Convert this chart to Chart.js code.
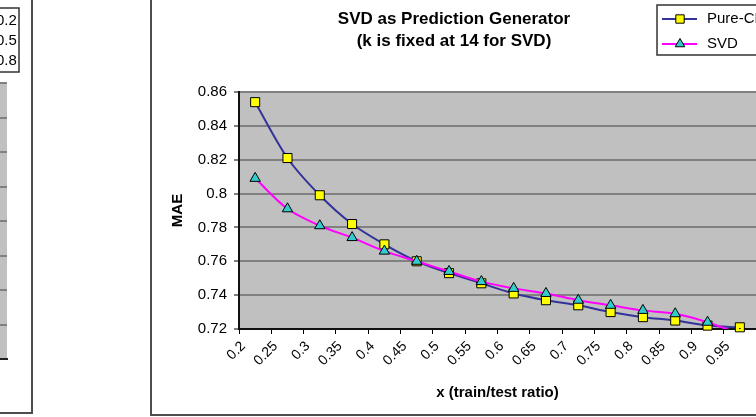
<!DOCTYPE html>
<html>
<head>
<meta charset="utf-8">
<script src="https://cdn.jsdelivr.net/npm/chart.js@4/dist/chart.umd.min.js"></script>
<style>
  html, body { margin: 0; padding: 0; background: #fff; overflow: hidden; width: 756px; height: 417px; }
  .frame { position: absolute; box-sizing: border-box; border: 2px solid #4d4d4d; background: #fff; }
  #prevFrame { left: -300px; top: -10px; width: 333px; height: 424px; }
  #mainFrame { left: 150px; top: -20px; width: 632px; height: 436px; }
  canvas { display: block; }
</style>
</head>
<body>
<div class="frame" id="prevFrame"><canvas id="prevChart" width="329" height="420"></canvas></div>
<div class="frame" id="mainFrame"><canvas id="myChart" width="628" height="432"></canvas></div>
<script>
// train/test ratio categories
var ratios = ['0.2', '0.25', '0.3', '0.35', '0.4', '0.45', '0.5', '0.55',
              '0.6', '0.65', '0.7', '0.75', '0.8', '0.85', '0.9', '0.95'];
// MAE
var pureCF = [0.854, 0.821, 0.799, 0.782, 0.770, 0.760, 0.753, 0.747,
              0.741, 0.737, 0.734, 0.730, 0.727, 0.725, 0.722, 0.721];
var svd    = [0.809, 0.791, 0.781, 0.774, 0.766, 0.760, 0.754, 0.748,
              0.744, 0.741, 0.737, 0.734, 0.731, 0.729, 0.724, 0.717];
var seriesNames = ['Pure-CF', 'SVD'];
// legend of the neighbouring (cropped) chart
var prevLegend = ['0.2', '0.5', '0.8'];

var FONT = "'Liberation Sans', Arial, sans-serif";

var plotBackground = {
  id: 'plotBackground',
  beforeDraw: function(chart, args, opts) {
    var a = chart.chartArea, ctx = chart.ctx;
    ctx.save();
    ctx.fillStyle = opts.color;
    ctx.fillRect(a.left, a.top, a.right - a.left, a.bottom - a.top);
    ctx.restore();
  }
};

var boxLegend = {
  id: 'boxLegend',
  afterDraw: function(chart, args, opts) {
    if (!opts.show) return;
    var ctx = chart.ctx;
    ctx.save();
    ctx.fillStyle = '#fff';
    ctx.fillRect(opts.x, opts.y, opts.w, opts.h);
    ctx.strokeStyle = '#333';
    ctx.lineWidth = 1.5;
    ctx.strokeRect(opts.x, opts.y, opts.w, opts.h);
    ctx.font = '15px ' + FONT;
    ctx.textBaseline = 'middle';
    var labels = opts.labels || chart.data.datasets.map(function(d) { return d.label; });
    labels.forEach(function(label, i) {
      var y = opts.y + opts.first + i * opts.step;
      var ds = chart.data.datasets[i];
      if (opts.samples && ds) {
        ctx.strokeStyle = ds.borderColor;
        ctx.lineWidth = ds.borderWidth;
        ctx.beginPath();
        ctx.moveTo(opts.x + 5, y);
        ctx.lineTo(opts.x + 40, y);
        ctx.stroke();
        ctx.fillStyle = ds.pointBackgroundColor;
        ctx.strokeStyle = ds.pointBorderColor;
        ctx.lineWidth = 1;
        Chart.helpers.drawPoint(ctx, { pointStyle: ds.pointStyle, radius: ds.pointRadius - 0.5, borderWidth: 1 }, opts.x + 23, y);
      }
      ctx.fillStyle = '#000';
      ctx.fillText(label, opts.x + opts.textX, y);
    });
    ctx.restore();
  }
};

// cropped chart on the left: only its right edge shows
new Chart(document.getElementById('prevChart'), {
  type: 'line',
  data: {
    labels: [''],
    datasets: prevLegend.map(function(l) { return { label: l, data: [] }; })
  },
  plugins: [plotBackground, boxLegend],
  options: {
    responsive: false,
    animation: false,
    events: [],
    layout: { padding: { left: 100, right: 24, top: 91, bottom: 53 } },
    plugins: {
      legend: { display: false },
      tooltip: { enabled: false },
      plotBackground: { color: '#c0c0c0' },
      boxLegend: { show: true, x: 240, y: 16, w: 77, h: 64, first: 13, step: 20, textX: 54, samples: false }
    },
    scales: {
      x: {
        ticks: { display: false },
        grid: { display: false },
        border: { color: '#222', width: 2 },
        afterFit: function(s) { s.height = 0; }
      },
      y: {
        min: 0, max: 8,
        ticks: { display: false, stepSize: 1 },
        grid: { color: '#808080', lineWidth: 2, drawTicks: false },
        border: { display: false },
        afterFit: function(s) { s.width = 0; }
      }
    }
  }
});

var ctx = document.getElementById('myChart');
var chart = new Chart(ctx, {
  type: 'line',
  data: {
    labels: ratios,
    datasets: [{
      label: seriesNames[0],
      data: pureCF,
      order: 1,
      borderColor: '#333399',
      borderWidth: 2,
      tension: 0.3,
      pointStyle: 'rect',
      pointRadius: 6.4,
      pointBackgroundColor: '#ffff00',
      pointBorderColor: '#000',
      pointBorderWidth: 1,
      clip: false
    }, {
      label: seriesNames[1],
      data: svd,
      order: 0,
      borderColor: '#ff00ff',
      borderWidth: 2,
      tension: 0.3,
      pointStyle: 'triangle',
      pointRadius: 6,
      pointBackgroundColor: '#33cccc',
      pointBorderColor: '#000',
      pointBorderWidth: 1,
      clip: 0
    }]
  },
  plugins: [plotBackground, boxLegend],
  options: {
    responsive: false,
    animation: false,
    events: [],
    layout: { padding: { left: 0, right: 24, top: 0, bottom: 0 } },
    plugins: {
      legend: { display: false },
      tooltip: { enabled: false },
      plotBackground: { color: '#c0c0c0' },
      boxLegend: { show: true, x: 505, y: 23, w: 115, h: 50, first: 14, step: 25, textX: 50, samples: true },
      title: {
        display: true,
        text: ['SVD as Prediction Generator', '(k is fixed at 14 for SVD)'],
        color: '#000',
        font: { family: FONT, size: 17, weight: 'bold', lineHeight: '22px' },
        padding: { top: 26, bottom: 40 }
      }
    },
    scales: {
      x: {
        offset: true,
        grid: { offset: true, drawOnChartArea: false, drawTicks: true, tickLength: 5, color: '#000', lineWidth: 1 },
        border: { color: '#111', width: 2 },
        ticks: {
          autoSkip: false, maxRotation: 45, minRotation: 45,
          labelOffset: -12, padding: 4, color: '#000',
          font: { family: FONT, size: 14 }
        },
        title: {
          display: true, text: 'x (train/test ratio)', color: '#000',
          font: { family: FONT, size: 15, weight: 'bold' },
          padding: { top: 0, bottom: 12 }
        },
        afterFit: function(s) { s.height = 85; }
      },
      y: {
        min: 0.72, max: 0.86,
        ticks: {
          stepSize: 0.02, padding: 7, color: '#000',
          font: { family: FONT, size: 15 },
          callback: function(v) { return String(+v.toFixed(2)); }
        },
        grid: { color: '#808080', lineWidth: 2, tickColor: '#000', tickLength: 5, tickWidth: 1 },
        border: { color: '#111', width: 2 },
        title: {
          display: true, text: 'MAE', color: '#000',
          font: { family: FONT, size: 15, weight: 'bold' },
          padding: { top: 17, bottom: 0 }
        },
        afterFit: function(s) { s.width = 87; }
      }
    }
  }
});
</script>
</body>
</html>
